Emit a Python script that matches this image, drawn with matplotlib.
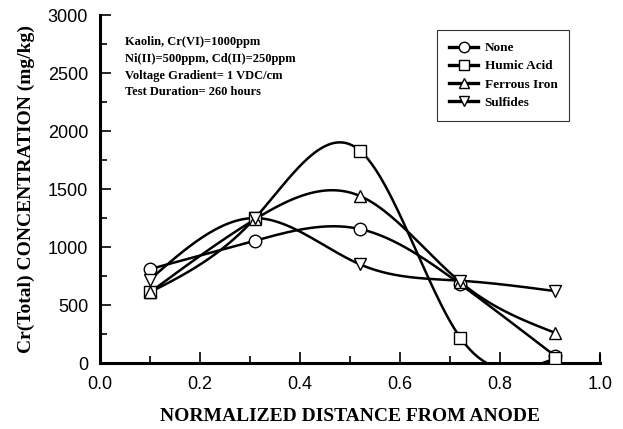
import numpy as np
import matplotlib
matplotlib.use("Agg")
import matplotlib.pyplot as plt
from matplotlib.ticker import MultipleLocator, FormatStrFormatter

# data
distance = [0.10, 0.31, 0.52, 0.72, 0.91]
none_vals = [810, 1055, 1155, 680, 60]
humic_vals = [610, 1250, 1830, 220, 40]
ferrous_vals = [610, 1240, 1440, 700, 260]
sulfide_vals = [720, 1250, 850, 710, 620]

series = [
    ("None", none_vals, "o"),
    ("Humic Acid", humic_vals, "s"),
    ("Ferrous Iron", ferrous_vals, "^"),
    ("Sulfides", sulfide_vals, "v"),
]

notes = ["Kaolin, Cr(VI)=1000ppm",
         "Ni(II)=500ppm, Cd(II)=250ppm",
         "Voltage Gradient= 1 VDC/cm",
         "Test Duration= 260 hours"]


def natural_spline(x, y, n=200):
    # smooth line through the points, like the original plotting package
    x = np.asarray(x, float)
    y = np.asarray(y, float)
    k = len(x)
    h = np.diff(x)
    A = np.zeros((k, k))
    b = np.zeros(k)
    A[0, 0] = A[-1, -1] = 1
    for i in range(1, k - 1):
        A[i, i - 1] = h[i - 1]
        A[i, i] = 2 * (h[i - 1] + h[i])
        A[i, i + 1] = h[i]
        b[i] = 3 * ((y[i + 1] - y[i]) / h[i] - (y[i] - y[i - 1]) / h[i - 1])
    c = np.linalg.solve(A, b)
    xs = np.linspace(x[0], x[-1], n)
    idx = np.clip(np.searchsorted(x, xs) - 1, 0, k - 2)
    dx = xs - x[idx]
    bb = (y[idx + 1] - y[idx]) / h[idx] - h[idx] * (2 * c[idx] + c[idx + 1]) / 3
    dd = (c[idx + 1] - c[idx]) / (3 * h[idx])
    ys = y[idx] + bb * dx + c[idx] * dx ** 2 + dd * dx ** 3
    return xs, ys


fig = plt.figure(figsize=(6.23, 4.29), dpi=100)
ax = fig.add_axes([0.1605, 0.1538, 0.803, 0.811])

for name, vals, mk in series:
    xs, ys = natural_spline(distance, vals)
    ax.plot(xs, ys, color="black", lw=1.8, zorder=2)
    ax.plot(distance, vals, linestyle="none", marker=mk, markersize=9,
            markerfacecolor="white", markeredgecolor="black", markeredgewidth=1.0, zorder=3)

# legend handles
handles = [plt.Line2D([], [], color="black", lw=2.4, marker=mk, markersize=7.5,
                      markerfacecolor="white", markeredgecolor="black", markeredgewidth=1.0)
           for _, _, mk in series]
leg = ax.legend(handles, [s[0] for s in series], loc="upper left",
                bbox_to_anchor=(0.674, 0.957), frameon=True, fancybox=False,
                handlelength=2.2, handletextpad=0.5, borderpad=0.9, labelspacing=0.45,
                borderaxespad=0,
                prop={"family": "Liberation Serif", "weight": "bold", "size": 9.5})
leg.get_frame().set_edgecolor("black")
leg.get_frame().set_linewidth(0.8)

for i, t in enumerate(notes):
    ax.text(0.05, 0.922 - i * 0.048, t, transform=ax.transAxes, fontsize=9,
            family="Liberation Serif", weight="bold", va="center")

ax.set_xlim(0, 1.0)
ax.set_ylim(0, 3000)
ax.xaxis.set_major_locator(MultipleLocator(0.2))
ax.xaxis.set_minor_locator(MultipleLocator(0.1))
ax.xaxis.set_major_formatter(FormatStrFormatter("%.1f"))
ax.yaxis.set_major_locator(MultipleLocator(500))
ax.yaxis.set_minor_locator(MultipleLocator(250))
ax.tick_params(which="both", direction="in", width=1.2, labelsize=13)
ax.tick_params(which="major", length=8, pad=9)
ax.tick_params(which="minor", length=5)
ax.tick_params(axis="y", pad=8.5)
for lbl in ax.get_xticklabels() + ax.get_yticklabels():
    lbl.set_family("Liberation Sans")

ax.spines["top"].set_visible(False)
ax.spines["right"].set_visible(False)
ax.spines["left"].set_linewidth(2.2)
ax.spines["bottom"].set_linewidth(2.2)
# end tick at x = 1.0
ax.plot([1.0, 1.0], [0, 70], color="black", lw=1.5, clip_on=False)

ax.set_xlabel("NORMALIZED DISTANCE FROM ANODE", family="Liberation Serif",
              weight="bold", fontsize=14, labelpad=11)
ax.set_ylabel("Cr(Total) CONCENTRATION (mg/kg)", family="Liberation Serif",
              weight="bold", fontsize=14, labelpad=9)

fig.savefig("out.png", dpi=100)
